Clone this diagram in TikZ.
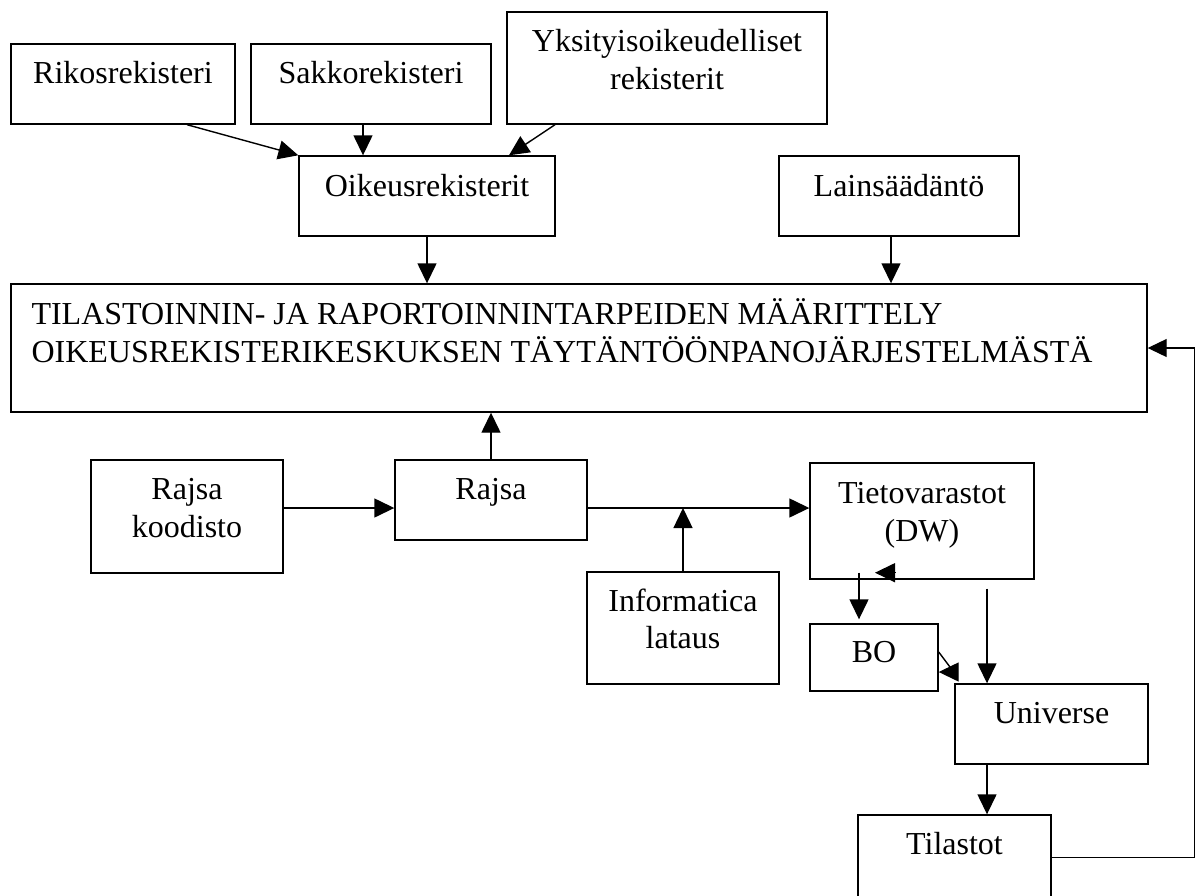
\documentclass[tikz,border=0pt]{standalone}
\usepackage{fontspec}
\setmainfont{Liberation Serif}
\usetikzlibrary{arrows.meta,calc}
\tikzset{
  box/.style={draw, line width=1.4pt, inner sep=0pt},
  txt/.style={inner sep=0pt, anchor=base, font=\fontsize{32pt}{38pt}\selectfont},
  txtl/.style={inner sep=0pt, anchor=base west, font=\fontsize{32pt}{38pt}\selectfont},
  arr/.style={line width=1.4pt, -{Triangle[length=20pt,width=19pt]}},
  plain/.style={line width=1.4pt},
  fb/.style={line width=1.1pt, -{Triangle[length=19pt,width=18pt]}}
}
\begin{document}
\begin{tikzpicture}[x=1pt,y=-1pt]
\useasboundingbox (0,0) rectangle (1195,895);
\clip (0,0) rectangle (1195,895);
% boxes
\node[box, minimum width=224pt, minimum height=80pt] (rikos) at (123,84) {};
\node[box, minimum width=240pt, minimum height=80pt] (sakko) at (371,84) {};
\node[box, minimum width=320pt, minimum height=112pt] (yksit) at (667,68) {};
\node[box, minimum width=256pt, minimum height=80pt] (oikeus) at (427,196) {};
\node[box, minimum width=240pt, minimum height=80pt] (lain) at (899,196) {};
\node[box, minimum width=1136pt, minimum height=128pt] (main) at (579,348) {};
\node[box, minimum width=192pt, minimum height=113pt] (rkood) at (187,516.5) {};
\node[box, minimum width=192pt, minimum height=80pt] (rajsa) at (491,500) {};
\node[box, minimum width=192pt, minimum height=112pt] (info) at (683,628) {};
\node[box, minimum width=224pt, minimum height=116pt] (tieto) at (922,521) {};
\node[box, minimum width=128pt, minimum height=67pt] (bo) at (874,657.5) {};
\node[box, minimum width=193pt, minimum height=80pt] (univ) at (1051.5,724) {};
\node[box, minimum width=193pt, minimum height=85pt] (tilastot) at (954.5,857.5) {};
% texts
\node[txt] (rikosT) at ([yshift=-40pt]rikos.north) {Rikosrekisteri};
\node[txt] (sakkoT) at ([yshift=-40pt]sakko.north) {Sakkorekisteri};
\node[txt] (yksitT1) at ([yshift=-40pt]yksit.north) {Yksityisoikeudelliset};
\node[txt] (yksitT2) at ([yshift=-78pt]yksit.north) {rekisterit};
\node[txt] (oikeusT) at ([yshift=-41pt]oikeus.north) {Oikeusrekisterit};
\node[txt] (lainT) at ([yshift=-41pt]lain.north) {Lainsäädäntö};
\node[txtl] (mainT1) at ([xshift=21pt,yshift=-41pt]main.north west) {TILASTOINNIN- JA RAPORTOINNINTARPEIDEN MÄÄRITTELY};
\node[txtl] (mainT2) at ([xshift=21pt,yshift=-79pt]main.north west) {OIKEUSREKISTERIKESKUKSEN TÄYTÄNTÖÖNPANOJÄRJESTELMÄSTÄ};
\node[txt] (rkoodT1) at ([yshift=-40pt]rkood.north) {Rajsa};
\node[txt] (rkoodT2) at ([yshift=-78pt]rkood.north) {koodisto};
\node[txt] (rajsaT) at ([yshift=-40pt]rajsa.north) {Rajsa};
\node[txt] (infoT1) at ([yshift=-40pt]info.north) {Informatica};
\node[txt] (infoT2) at ([yshift=-77pt]info.north) {lataus};
\node[txt] (tietoT1) at ([yshift=-41pt]tieto.north) {Tietovarastot};
\node[txt] (tietoT2) at ([yshift=-79pt]tieto.north) {(DW)};
\node[txt] (boT) at ([yshift=-39pt]bo.north) {BO};
\node[txt] (univT) at ([yshift=-40pt]univ.north) {Universe};
\node[txt] (tilastotT) at ([yshift=-40pt]tilastot.north) {Tilastot};
% connectors
\draw[arr] ([xshift=64pt]rikos.south) -- (oikeus.north west);
\coordinate (s1) at ([xshift=-8pt]sakko.south);
\draw[arr] (s1) -- (s1 |- oikeus.north);
\draw[arr] ([xshift=-112pt]yksit.south) -- ([xshift=82pt]oikeus.north);
\draw[arr] (oikeus.south) -- (oikeus.south |- main.north);
\coordinate (l1) at ([xshift=-8pt]lain.south);
\draw[arr] (l1) -- (l1 |- main.north);
\draw[arr] (rajsa.north) -- (rajsa.north |- main.south);
\coordinate (r1) at ([yshift=-8pt]rajsa.west);
\draw[arr] (rkood.east |- r1) -- (r1);
\coordinate (r2) at ([yshift=-8pt]rajsa.east);
\draw[arr] (r2) -- (r2 -| tieto.west);
\draw[arr] (info.north) -- (info.north |- r2);
\coordinate (t1) at ([xshift=-63pt,yshift=7pt]tieto.south);
\draw[arr] (t1) -- ($(t1 |- bo.north)+(0,-4)$);
\coordinate (t2) at ([xshift=-47pt,yshift=7pt]tieto.south);
\draw[arr] ([xshift=20pt]t2) -- (t2);
\coordinate (u1) at ([xshift=-64.5pt]univ.north);
\draw[arr] ($(tieto.south -| u1)+(0,9)$) -- (u1);
\draw[arr] (u1 |- univ.south) -- (u1 |- tilastot.north);
\draw[plain] ([yshift=5.5pt]bo.east) -- ++(12,16);
\draw[arr] ([xshift=18pt,yshift=-14.5pt]bo.east) -- ([yshift=-14.5pt]bo.east);
\draw[fb] (tilastot.east) -| ($(main.east)+(47,0)$) -- (main.east);
\end{tikzpicture}
\end{document}
